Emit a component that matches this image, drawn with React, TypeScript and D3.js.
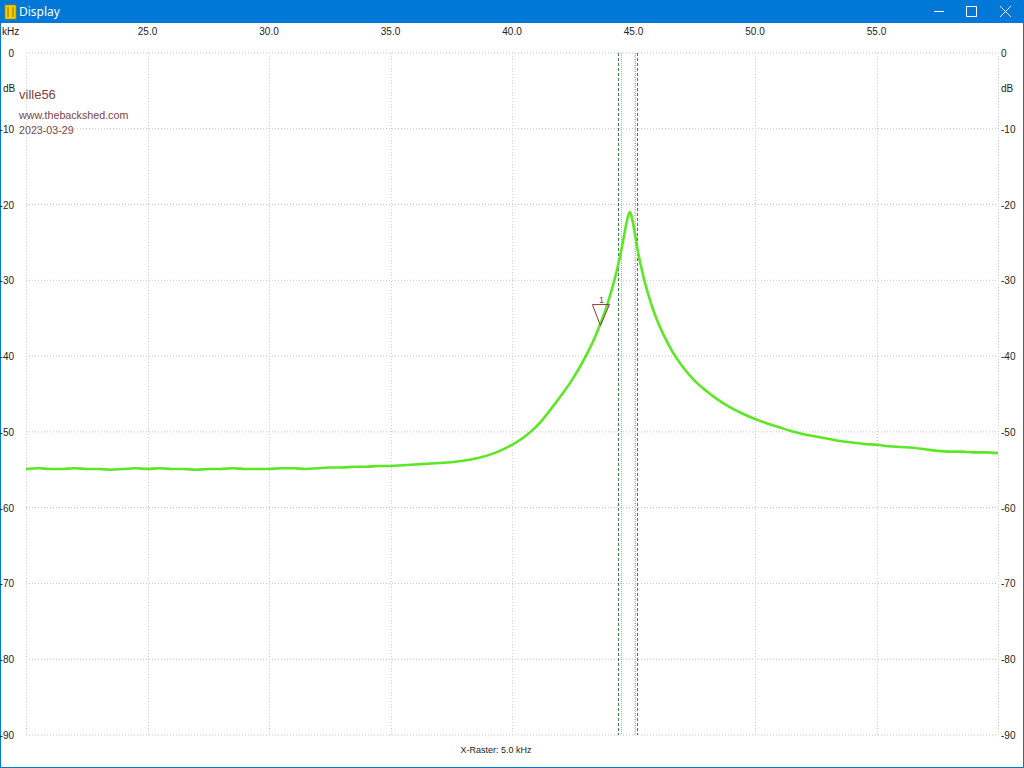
import React from "react";
import * as d3 from "d3";

const freqs = [20.0,20.5,21.0,21.5,22.0,22.5,23.0,23.5,24.0,24.5,25.0,25.5,26.0,26.5,27.0,27.5,28.0,28.5,29.0,29.5,30.0,30.5,31.0,31.5,32.0,32.5,33.0,33.5,34.0,34.5,35.0,35.5,36.0,36.5,37.0,37.5,38.0,38.5,39.0,39.5,40.0,40.4,40.8,41.2,41.6,42.0,42.4,42.8,43.1,43.4,43.7,43.9,44.1,44.3,44.45,44.6,44.7,44.8,44.85,44.9,45.0,45.2,45.4,45.6,45.8,46.0,46.3,46.6,47.0,47.5,48.0,48.5,49.0,49.5,50.0,50.5,51.0,51.5,52.0,52.5,53.0,53.5,54.0,54.5,55.0,55.5,56.0,56.5,57.0,57.5,58.0,58.5,59.0,59.5,60.0];
const levels = [-54.9,-54.8,-54.9,-54.9,-54.8,-54.9,-54.9,-55.0,-54.9,-54.8,-54.9,-54.8,-54.9,-54.9,-55.0,-54.9,-54.9,-54.8,-54.9,-54.9,-54.9,-54.8,-54.8,-54.9,-54.8,-54.7,-54.7,-54.6,-54.6,-54.5,-54.5,-54.4,-54.3,-54.2,-54.1,-54.0,-53.8,-53.5,-53.1,-52.5,-51.7,-50.9,-49.9,-48.6,-47.0,-45.3,-43.5,-41.4,-39.6,-37.6,-35.2,-33.4,-31.3,-28.9,-26.8,-24.3,-22.6,-21.3,-21.0,-21.3,-22.8,-26.5,-29.4,-31.8,-33.8,-35.5,-37.6,-39.4,-41.3,-43.2,-44.6,-45.8,-46.8,-47.6,-48.3,-48.9,-49.4,-49.9,-50.3,-50.6,-50.9,-51.2,-51.4,-51.6,-51.7,-51.9,-52.0,-52.1,-52.3,-52.5,-52.6,-52.6,-52.7,-52.7,-52.8];

const xTicks = [25, 30, 35, 40, 45, 50, 55];
const yTicks = [0, -10, -20, -30, -40, -50, -60, -70, -80, -90];
const cursorsDashed = [44.38, 45.16];
const cursorsDotted = [44.47, 45.08];
const markerFreq = 43.64;
const markerLevel = -33.2;
const notes = ["ville56", "www.thebackshed.com", "2023-03-29"];

export default function App() {
  React.useEffect(() => {
    document.body.style.margin = "0";
    document.body.style.overflow = "hidden";
  }, []);
  const x = d3.scaleLinear().domain([20, 60]).range([26, 998]);
  const y = d3.scaleLinear().domain([0, -90]).range([53, 735]);
  const data = freqs.map((f, i) => [f, levels[i]] as [number, number]);
  const line = d3.line<[number, number]>().x(d => x(d[0])).y(d => y(d[1])).curve(d3.curveMonotoneX);
  const font = "Liberation Sans, Arial, sans-serif";
  const tc = "#222";
  const mx = x(markerFreq), my = y(markerLevel);
  return (
    <svg width={1024} height={768} style={{ position: "absolute", left: 0, top: 0, display: "block" }}>
      <rect x={0} y={0} width={1024} height={768} fill="#fff" />
      {/* title bar */}
      <rect x={0} y={0} width={1024} height={23} fill="#0078d7" />
      <rect x={0.5} y={0.5} width={1023} height={767} fill="none" stroke="#0078d7" strokeWidth={1} />
      <rect x={5} y={5} width={11} height={14} fill="#f5d000" stroke="#b08a00" strokeWidth={0.8} />
      <line x1={8} y1={7} x2={8} y2={17} stroke="#8a6a00" strokeWidth={1} />
      <line x1={13} y1={7} x2={13} y2={17} stroke="#8a6a00" strokeWidth={1} />
      <text x={19} y={16} fill="#fff" fontSize={12} fontFamily="Noto Sans, Open Sans, sans-serif">Display</text>
      <line x1={934} y1={11.5} x2={944} y2={11.5} stroke="#fff" strokeWidth={1} />
      <rect x={966.5} y={6.5} width={10} height={10} fill="none" stroke="#fff" strokeWidth={1} />
      <line x1={1000} y1={6} x2={1011} y2={17} stroke="#fff" strokeWidth={1} />
      <line x1={1011} y1={6} x2={1000} y2={17} stroke="#fff" strokeWidth={1} />

      {/* grid */}
      {yTicks.map(t => (
        <line key={"h" + t} x1={26} x2={998} y1={y(t)} y2={y(t)} stroke="#c4c4c4" strokeWidth={1} strokeDasharray="1,2" />
      ))}
      {[20, ...xTicks, 60].map(t => (
        <line key={"v" + t} x1={Math.round(x(t)) + 0.5} x2={Math.round(x(t)) + 0.5} y1={53} y2={735} stroke="#d0d0d0" strokeWidth={1} strokeDasharray="1,2" />
      ))}

      {/* axis labels */}
      <text x={2} y={35} fontSize={10} fontFamily={font} fill={tc}>kHz</text>
      {xTicks.map(t => (
        <text key={"xt" + t} x={x(t)} y={35} fontSize={10} fontFamily={font} fill={tc} textAnchor="middle">{t.toFixed(1)}</text>
      ))}
      {yTicks.map(t => (
        <g key={"yt" + t}>
          <text x={14} y={y(t) + 4} fontSize={10} fontFamily={font} fill={tc} textAnchor="end">{t}</text>
          <text x={1001} y={y(t) + 4} fontSize={10} fontFamily={font} fill={tc}>{t}</text>
        </g>
      ))}
      <text x={3} y={92} fontSize={10} fontFamily={font} fill={tc}>dB</text>
      <text x={1001} y={92} fontSize={10} fontFamily={font} fill={tc}>dB</text>
      <text x={496} y={753} fontSize={9} fontFamily={font} fill={tc} textAnchor="middle">X-Raster: 5.0 kHz</text>

      {/* notes */}
      <text x={19} y={99} fontSize={13} fontFamily={font} fill="#7b4545">{notes[0]}</text>
      <text x={19} y={119} fontSize={10.7} fontFamily={font} fill="#7b4545">{notes[1]}</text>
      <text x={19} y={134} fontSize={10.7} fontFamily={font} fill="#7b4545">{notes[2]}</text>

      {/* cursors */}
      {cursorsDashed.map(c => (
        <line key={"cd" + c} x1={Math.round(x(c)) + 0.5} x2={Math.round(x(c)) + 0.5} y1={53} y2={735} stroke="#3a7f48" strokeWidth={1} strokeDasharray="3,2" />
      ))}
      {cursorsDotted.map(c => (
        <line key={"cl" + c} x1={Math.round(x(c)) + 0.5} x2={Math.round(x(c)) + 0.5} y1={53} y2={735} stroke="#86c890" strokeWidth={1} strokeDasharray="1,1" />
      ))}

      {/* trace */}
      <path d={line(data) || ""} fill="none" stroke="#5ce624" strokeWidth={2.6} strokeLinejoin="round" />

      {/* marker */}
      <path d={`M${mx - 8},${my} L${mx + 9},${my} L${mx},${my + 21} Z`} fill="none" stroke="#8b3a3a" strokeWidth={1} />
      <text x={mx + 1} y={my - 2} fontSize={9} fontFamily={font} fill="#8b3a3a" textAnchor="middle">1</text>
    </svg>
  );
}
